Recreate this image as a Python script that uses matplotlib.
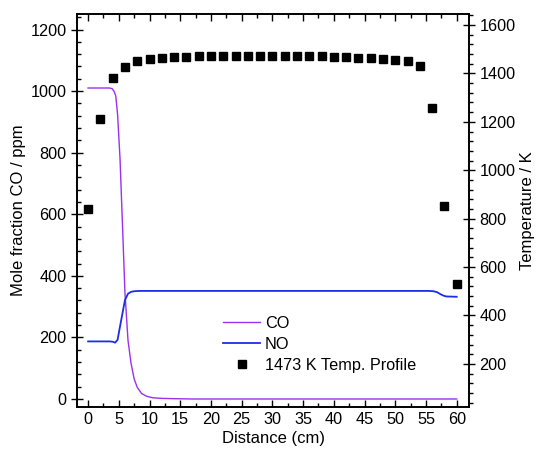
import matplotlib
matplotlib.use("Agg")
import matplotlib.pyplot as plt
from matplotlib.ticker import MultipleLocator, AutoMinorLocator

plt.rcParams['font.family'] = ['Liberation Sans', 'DejaVu Sans']
plt.rcParams['font.size'] = 11.7

# CO mole fraction (ppm) vs distance (cm)
co_x = [0, 3.5, 3.9, 4.2, 4.5, 4.8, 5.2, 5.6, 6.0, 6.5, 7.0, 7.5, 8.0, 8.7,
        9.5, 10.5, 12, 14, 17, 20, 60]
co_y = [1010, 1010, 1008, 1000, 985, 925, 780, 565, 345, 190, 115, 65, 38, 18,
        9, 4, 2, 1, 0, 0, 0]

# NO mole fraction (ppm)
no_x = [0, 3.5, 4.0, 4.4, 4.8, 5.1, 5.5, 6.0, 6.5, 7.0, 7.5, 8.5, 10,
        55.5, 56.2, 56.8, 57.3, 57.8, 58.3, 60]
no_y = [187, 187, 186, 183, 192, 225, 268, 321, 342, 348, 350, 351, 351,
        351, 350, 347, 341, 336, 333, 332]

# measured temperature profile (K)
t_x = list(range(0, 61, 2))
t_y = [840, 1212, 1381, 1426, 1451, 1460, 1463, 1466, 1468, 1470, 1471,
       1472, 1473, 1473, 1473, 1473, 1472, 1472, 1471, 1470, 1469, 1467,
       1465, 1462, 1460, 1454, 1450, 1431, 1257, 852, 530]

fig = plt.figure(figsize=(5.36, 4.55), dpi=100)
ax = fig.add_axes([0.1437, 0.1055, 0.7313, 0.8635])
ax2 = ax.twinx()

l1, = ax.plot(co_x, co_y, color='#9a30f0', lw=1.0, label='CO')
l2, = ax.plot(no_x, no_y, color='#1a2ee8', lw=1.3, label='NO')
l3, = ax2.plot(t_x, t_y, 's', color='black', ms=5.8, label='1473 K Temp. Profile')

ax.set_xlim(-1.8, 62)
ax.set_ylim(-26, 1250)
ax2.set_ylim(22, 1645)

ax.xaxis.set_major_locator(MultipleLocator(5))
ax.xaxis.set_minor_locator(AutoMinorLocator(2))
ax.yaxis.set_major_locator(MultipleLocator(200))
ax.yaxis.set_minor_locator(AutoMinorLocator(5))
ax2.yaxis.set_major_locator(MultipleLocator(200))
ax2.yaxis.set_minor_locator(AutoMinorLocator(5))

ax.tick_params(axis='x', which='both', direction='in', top=True)
ax.tick_params(axis='x', which='major', length=5)
ax.tick_params(axis='x', which='minor', length=3)
ax.tick_params(axis='y', which='major', direction='inout', length=8)
ax.tick_params(axis='y', which='minor', direction='in', length=3)
ax2.tick_params(axis='y', which='major', direction='inout', length=8)
ax2.tick_params(axis='y', which='minor', direction='out', length=3)
for a in (ax, ax2):
    a.tick_params(which='both', width=1.0, labelsize=11.7)
    for s in a.spines.values():
        s.set_linewidth(1.2)

ax.set_xlabel('Distance (cm)', fontsize=12, labelpad=3)
ax.set_ylabel('Mole fraction CO / ppm', fontsize=12, labelpad=3)
ax2.set_ylabel('Temperature / K', fontsize=12, labelpad=3)

ax2.legend(handles=[l1, l2, l3], loc='upper left', bbox_to_anchor=(0.372, 0.232),
           frameon=False, borderpad=0, borderaxespad=0, handlelength=2.3,
           handletextpad=0.3, labelspacing=0.36, fontsize=11.7)

fig.savefig('out.png', dpi=100)
